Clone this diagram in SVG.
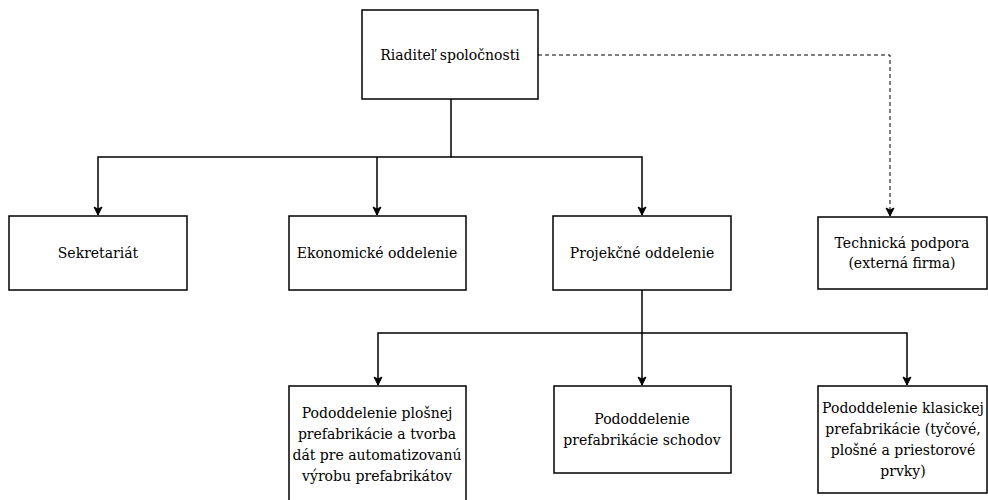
<svg xmlns="http://www.w3.org/2000/svg" width="988" height="500" viewBox="0 0 988 500">
<defs>
<marker id="arr" markerWidth="10" markerHeight="10" refX="9" refY="5" orient="auto" markerUnits="userSpaceOnUse">
<path d="M1,1 L9,5 L1,9 L3,5 Z" fill="#000" stroke="#000" stroke-width="1"/>
</marker>
<style>
.box{fill:#fff;stroke:#000;stroke-width:1.5}
.t{font-family:'DejaVu Serif',serif;font-size:14px;fill:#000;text-anchor:middle;dominant-baseline:central}
.c{fill:none;stroke:#000;stroke-width:1.5}
.d{fill:none;stroke:#000;stroke-width:1;stroke-dasharray:4,3}
</style>
</defs>
<rect width="988" height="500" fill="#fff"/>
<g id="connectors">
<path class="c" d="M451,99 V157 H98 V215" marker-end="url(#arr)"/>
<path class="c" d="M377,157 V215" marker-end="url(#arr)"/>
<path class="c" d="M451,157 H642 V215" marker-end="url(#arr)"/>
<path class="d" d="M538,55 H890 V216" marker-end="url(#arr)"/>
<path class="c" d="M642,290 V385" marker-end="url(#arr)"/>
<path class="c" d="M642,333 H378 V385" marker-end="url(#arr)"/>
<path class="c" d="M642,333 H907 V385" marker-end="url(#arr)"/>
</g>
<g id="riaditel">
<rect class="box" x="362" y="10" width="176" height="89"/>
<text class="t" x="450" y="55">Riaditeľ spoločnosti</text>
</g>
<g id="sekretariat">
<rect class="box" x="9" y="216" width="178" height="74"/>
<text class="t" x="98" y="253">Sekretariát</text>
</g>
<g id="ekonomicke">
<rect class="box" x="289" y="216" width="177" height="74"/>
<text class="t" x="377" y="253">Ekonomické oddelenie</text>
</g>
<g id="projekcne">
<rect class="box" x="553" y="216" width="178" height="74"/>
<text class="t" x="642" y="253">Projekčné oddelenie</text>
</g>
<g id="technicka">
<rect class="box" x="818" y="217" width="169" height="72"/>
<text class="t" x="902" y="243">Technická podpora</text>
<text class="t" x="902" y="263">(externá firma)</text>
</g>
<g id="plosnej">
<rect class="box" x="289" y="386" width="177" height="120"/>
<text class="t" x="377" y="413">Pododdelenie plošnej</text>
<text class="t" x="377" y="434">prefabrikácie a tvorba</text>
<text class="t" x="377" y="455">dát pre automatizovanú</text>
<text class="t" x="377" y="476">výrobu prefabrikátov</text>
</g>
<g id="schodov">
<rect class="box" x="554" y="386" width="177" height="87"/>
<text class="t" x="642" y="419">Pododdelenie</text>
<text class="t" x="642" y="440">prefabrikácie schodov</text>
</g>
<g id="klasickej">
<rect class="box" x="818" y="386" width="169" height="107"/>
<text class="t" x="903" y="408">Pododdelenie klasickej</text>
<text class="t" x="903" y="429">prefabrikácie (tyčové,</text>
<text class="t" x="903" y="450">plošné a priestorové</text>
<text class="t" x="903" y="471">prvky)</text>
</g>
</svg>
